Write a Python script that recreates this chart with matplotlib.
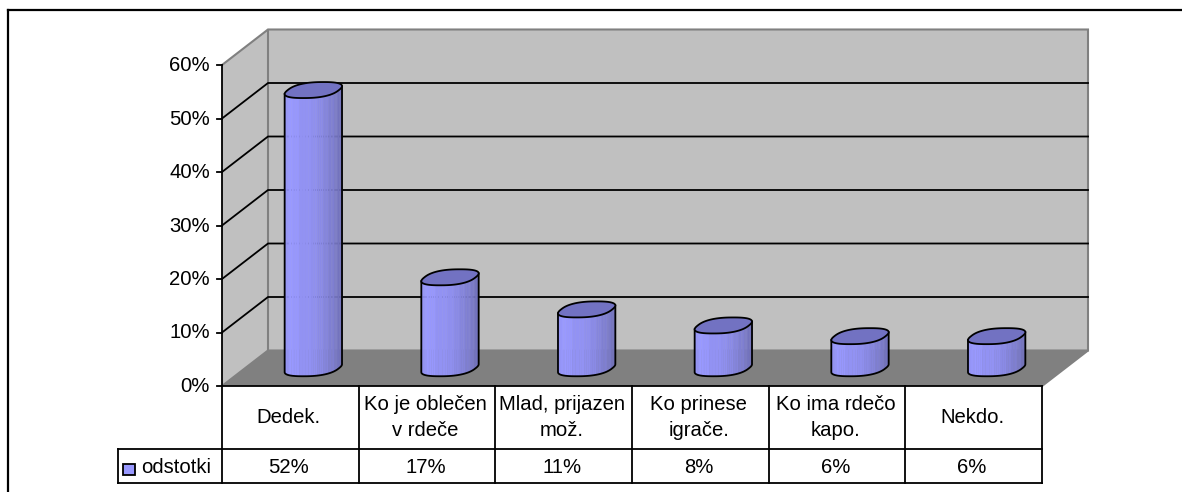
import numpy as np
import matplotlib
matplotlib.use('Agg')
import matplotlib.pyplot as plt

plt.rcParams['font.family'] = ['Liberation Sans', 'DejaVu Sans']

categories = ['Dedek.', 'Ko je oblečen\nv rdeče', 'Mlad, prijazen\nmož.',
              'Ko prinese\nigrače.', 'Ko ima rdečo\nkapo.', 'Nekdo.']
values = [52, 17, 11, 8, 6, 6]
table_labels = ['52%', '17%', '11%', '8%', '6%', '6%']
series_name = 'odstotki'
y_ticks = [0, 10, 20, 30, 40, 50, 60]

# pixel layout of the plot box
W, H = 1182, 492
X0, CAT_W = 222, (1042 - 222) / 6
Y0, PCT_H = 386, (386 - 65) / 60

fig = plt.figure(figsize=(W / 100, H / 100), dpi=100)
ax = fig.add_axes([0, 0, 1, 1])
ax.set_xlim((0 - X0) / CAT_W, (W - X0) / CAT_W)
ax.set_ylim((Y0 - H) / PCT_H, Y0 / PCT_H)
ax.axis('off')

def dx(px):
    return px / CAT_W

def dy(px):
    return px / PCT_H

DEPTH_X, DEPTH_Y = dx(46), dy(35.5)
TOP = y_ticks[-1]
N = len(categories)
LW = 1.3
FS = 14.6

# walls and floor
ax.fill([0, DEPTH_X, DEPTH_X, 0], [0, DEPTH_Y, TOP + DEPTH_Y, TOP], color='#c0c0c0', lw=0, zorder=1)
ax.fill([DEPTH_X, N + DEPTH_X, N + DEPTH_X, DEPTH_X], [DEPTH_Y, DEPTH_Y, TOP + DEPTH_Y, TOP + DEPTH_Y],
        color='#c0c0c0', lw=0, zorder=1)
ax.fill([0, N, N + DEPTH_X, DEPTH_X], [0, 0, DEPTH_Y, DEPTH_Y], color='#808080', lw=0, zorder=1)

# grey wall edges
for xs, ys in [([0, DEPTH_X, N + DEPTH_X, N + DEPTH_X], [TOP, TOP + DEPTH_Y, TOP + DEPTH_Y, DEPTH_Y]),
               ([DEPTH_X, DEPTH_X], [DEPTH_Y, TOP + DEPTH_Y]),
               ([0, DEPTH_X, N + DEPTH_X, N], [0, DEPTH_Y, DEPTH_Y, 0])]:
    ax.plot(xs, ys, color='#808080', lw=1.5, zorder=2, solid_joinstyle='miter')

# gridlines
for t in y_ticks[1:-1]:
    ax.plot([0, DEPTH_X, N + DEPTH_X], [t, t + DEPTH_Y, t + DEPTH_Y], color='black', lw=LW, zorder=2)

# value axis
ax.plot([0, 0], [0, TOP], color='black', lw=LW, zorder=3)
for t in y_ticks:
    ax.plot([-dx(5), 0], [t, t], color='black', lw=LW, zorder=3)
    ax.text(-dx(12), t - dy(0.5), f'{t}%', ha='right', va='center', fontsize=FS, color='black')

# cylinders, rim is a slightly squared ellipse skewed along the depth
RAD_X = dx(25.6)
SKEW_X, SKEW_Y = dx(10), dy(8)
strip_colors = ['#8f8ff2', '#9696fa', '#9999ff', '#9797fc', '#9292f3', '#8f8fee',
                '#8a8ae6', '#8585dc', '#7f7fd2', '#7a7ac8', '#7373be', '#6e6eb6']
top_color = '#7272c2'

def rim(cx, cy, t):
    c = np.sign(np.cos(t)) * np.abs(np.cos(t)) ** 0.8
    s = np.sign(np.sin(t)) * np.abs(np.sin(t)) ** 0.8
    return cx + RAD_X * c + SKEW_X * s, cy + SKEW_Y * s

t_all = np.linspace(0, 2 * np.pi, 181)
x_unit, _ = rim(0, 0, t_all)
t_left = t_all[np.argmin(x_unit)]
t_right = t_all[np.argmax(x_unit)] + 2 * np.pi
t_front = np.linspace(t_left, t_right, 40)
strip_idx = np.linspace(0, len(strip_colors), len(t_front) - 1, endpoint=False).astype(int)

for i, v in enumerate(values):
    cx = i + 0.5 + DEPTH_X / 2
    cy = DEPTH_Y / 2
    xb, yb = rim(cx, cy, t_front)
    for j, k in enumerate(strip_idx):
        c = strip_colors[k]
        ax.fill([xb[j], xb[j + 1], xb[j + 1], xb[j]],
                [yb[j], yb[j + 1], yb[j + 1] + v, yb[j] + v],
                facecolor=c, edgecolor=c, lw=0.3, zorder=4)
    # outline of the side
    ax.plot(np.r_[xb[0], xb, xb[-1]], np.r_[yb[0] + v, yb, yb[-1] + v], color='black', lw=LW,
            zorder=5, solid_joinstyle='round')
    xt, yt = rim(cx, cy + v, t_all)
    ax.fill(xt, yt, facecolor=top_color, edgecolor='black', lw=LW, zorder=6)

# data table
ROW1 = -dy(449 - 386)
ROW2 = -dy(483 - 386)
LEFT = -dx(222 - 118)
for k in range(N + 1):
    ax.plot([k, k], [0, ROW2], color='black', lw=LW, zorder=7)
for yy, x_start in [(0, 0), (ROW1, LEFT), (ROW2, LEFT)]:
    ax.plot([x_start, N], [yy, yy], color='black', lw=LW, zorder=7)
ax.plot([LEFT, LEFT], [ROW1, ROW2], color='black', lw=LW, zorder=7)

row2_mid = (ROW1 + ROW2) / 2 - dy(1.5)
for i, (cat, lab) in enumerate(zip(categories, table_labels)):
    ax.text(i + 0.5 - dx(1.5), ROW1 / 2, cat, ha='center', va='center', fontsize=FS, linespacing=1.45)
    ax.text(i + 0.5 - dx(1.5), row2_mid, lab, ha='center', va='center', fontsize=FS)

# legend key
key_x = LEFT + dx(5.5)
key_w, key_h = dx(11.5), dy(11.5)
key_y = row2_mid - key_h / 2 - dy(2)
ax.fill([key_x, key_x + key_w, key_x + key_w, key_x], [key_y, key_y, key_y + key_h, key_y + key_h],
        facecolor='#9999ff', edgecolor='black', lw=LW, zorder=7)
ax.text(LEFT + dx(23), row2_mid, series_name, ha='left', va='center', fontsize=FS)

# chart area border, only top and left show in the crop
fig.add_artist(plt.Line2D([8 / W, 8 / W], [0, 1 - 10 / H], color='black', lw=1.6))
fig.add_artist(plt.Line2D([8 / W, 1], [1 - 10 / H, 1 - 10 / H], color='black', lw=1.6))

fig.savefig('out.png', dpi=100, facecolor='white')
